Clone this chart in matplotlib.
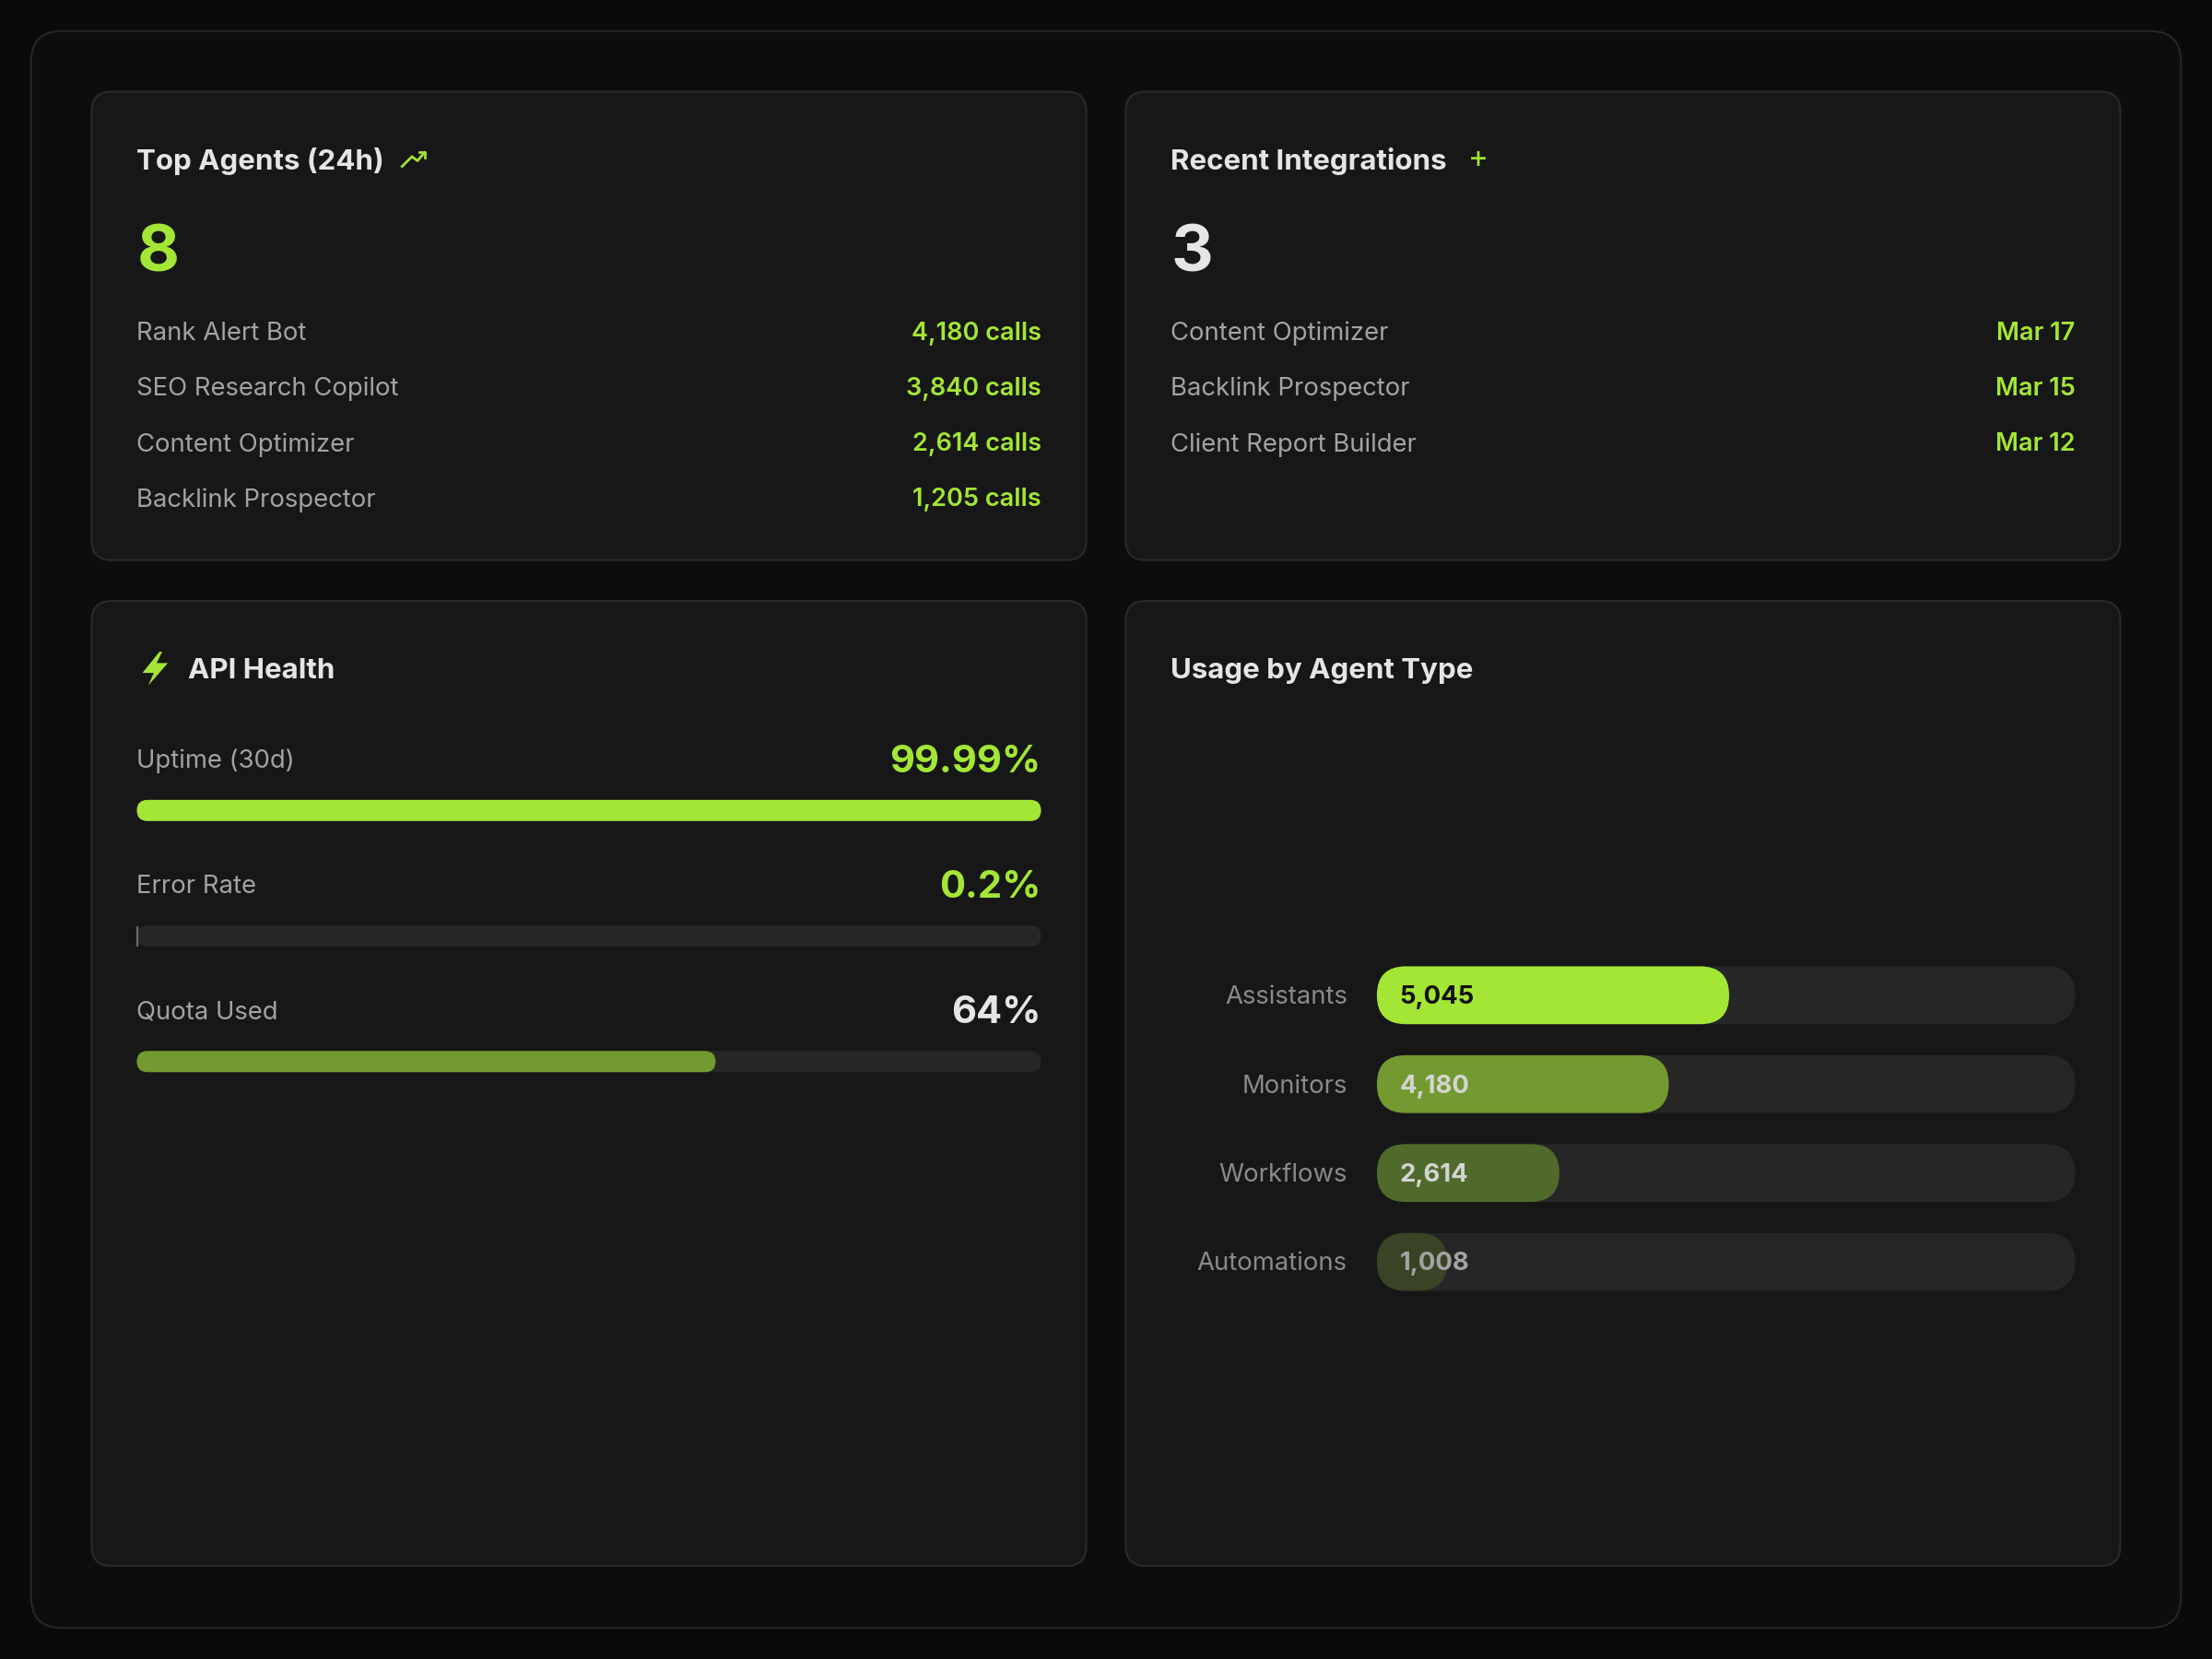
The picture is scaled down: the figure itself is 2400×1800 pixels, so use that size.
import matplotlib.pyplot as plt
from matplotlib.patches import FancyBboxPatch, Polygon

plt.rcParams['font.family'] = ['Inter', 'DejaVu Sans']

LIME = '#a3e635'
TEXT = '#e5e5e5'
GRAY = '#a3a3a3'

top_agents_count = 8
agents = ['Rank Alert Bot', 'SEO Research Copilot', 'Content Optimizer', 'Backlink Prospector']
agent_calls = [4180, 3840, 2614, 1205]

integrations_count = 3
integrations = ['Content Optimizer', 'Backlink Prospector', 'Client Report Builder']
integration_dates = ['Mar 17', 'Mar 15', 'Mar 12']

health_labels = ['Uptime (30d)', 'Error Rate', 'Quota Used']
health_values = [99.99, 0.2, 64]
health_texts = ['99.99%', '0.2%', '64%']

usage_types = ['Assistants', 'Monitors', 'Workflows', 'Automations']
usage_values = [5045, 4180, 2614, 1008]
usage_colors = [LIME, '#739a30', '#4f6a2a', '#394326']
usage_max = 10000

fig = plt.figure(figsize=(16, 12), dpi=150, facecolor='#0a0a0a')
ax = fig.add_axes([0, 0, 1, 1])
ax.set_xlim(0, 1568)
ax.set_ylim(1176, 0)
ax.set_aspect('equal')
ax.axis('off')


def rbox(x, y, w, h, r, fc, ec='none', lw=0, z=1):
    r = min(r, h / 2, w / 2)
    ax.add_patch(FancyBboxPatch((x, y), w, h, boxstyle=f'round,pad=0,rounding_size={r}',
                                fc=fc, ec=ec, lw=lw, zorder=z))


rbox(22, 22, 1524, 1132, 22, '#0d0d0d', '#262626', 1)
for (x, y, w, h) in [(65, 65, 705, 332), (798, 65, 705, 332), (65, 426, 705, 684), (798, 426, 705, 684)]:
    rbox(x, y, w, h, 14, '#171717', '#2a2a2a', 1, 2)

# Top agents
ax.text(97, 114.5, 'Top Agents (24h)', color=TEXT, fontsize=15, fontweight='bold', va='center', zorder=5)
ax.plot([285, 292, 296, 301], [118, 111, 114, 108], color=LIME, lw=1.3, zorder=5)
ax.plot([297, 301, 301], [108, 108, 112], color=LIME, lw=1.3, zorder=5)
ax.text(97, 180, str(top_agents_count), color=LIME, fontsize=34, fontweight='bold', va='center', zorder=5)
for i, (n, c) in enumerate(zip(agents, agent_calls)):
    y = 236.5 + i * 39.3
    ax.text(97, y, n, color=GRAY, fontsize=13.2, va='center', zorder=5)
    ax.text(738, y, f'{c:,} calls', color=LIME, fontsize=13, fontweight='semibold', va='center', ha='right', zorder=5)

# Recent integrations
ax.text(830, 114.5, 'Recent Integrations', color=TEXT, fontsize=15, fontweight='bold', va='center', zorder=5)
ax.text(1048, 113, '+', color=LIME, fontsize=16, va='center', ha='center', zorder=5)
ax.text(830, 180, str(integrations_count), color=TEXT, fontsize=34, fontweight='bold', va='center', zorder=5)
for i, (n, d) in enumerate(zip(integrations, integration_dates)):
    y = 236.5 + i * 39.3
    ax.text(830, y, n, color=GRAY, fontsize=13.2, va='center', zorder=5)
    ax.text(1471, y, d, color=LIME, fontsize=13, fontweight='semibold', va='center', ha='right', zorder=5)

# API health
ax.add_patch(Polygon([[113, 462], [101, 477], [109, 477], [105, 486], [119, 470], [111, 470], [115, 462]],
                     closed=True, fc=LIME, ec='none', zorder=5))
ax.text(133, 475.5, 'API Health', color=TEXT, fontsize=15, fontweight='bold', va='center', zorder=5)
bar_colors = [LIME, LIME, '#739a30']
val_colors = [LIME, LIME, TEXT]
for i, (lab, v, t) in enumerate(zip(health_labels, health_values, health_texts)):
    y = 538 + i * 89
    ax.text(97, y + 1.5, lab, color=GRAY, fontsize=13.2, va='center', zorder=5)
    ax.text(738, y + 2, t, color=val_colors[i], fontsize=20, fontweight='bold', va='center', ha='right', zorder=5)
    rbox(97, y + 29, 641, 15, 7.5, '#262626', z=3)
    w = 641 * v / 100
    if w < 3:
        ax.plot([97.5, 97.5], [y + 30, y + 43], color='#6b6b6b', lw=1, zorder=4)
    else:
        rbox(97, y + 29, w, 15, 7.5, bar_colors[i], z=4)

# Usage by agent type
ax.text(830, 475.5, 'Usage by Agent Type', color=TEXT, fontsize=15, fontweight='bold', va='center', zorder=5)
track_w = 495
for i, (n, v, c) in enumerate(zip(usage_types, usage_values, usage_colors)):
    y = 685 + i * 63
    rbox(976, y, track_w, 41, 20.5, '#262626', z=3)
    rbox(976, y, track_w * v / usage_max, 41, 20.5, c, z=4)
    ax.text(955, y + 22, n, color='#8a8a8a', fontsize=13.2, va='center', ha='right', zorder=5)
    tc = '#111111' if i == 0 else ('#d4d4d4' if i < 3 else '#a3a3a3')
    ax.text(992, y + 22, f'{v:,}', color=tc, fontsize=13.2, fontweight='bold', va='center', zorder=5)

fig.savefig('out.png', dpi=150, facecolor=fig.get_facecolor())
